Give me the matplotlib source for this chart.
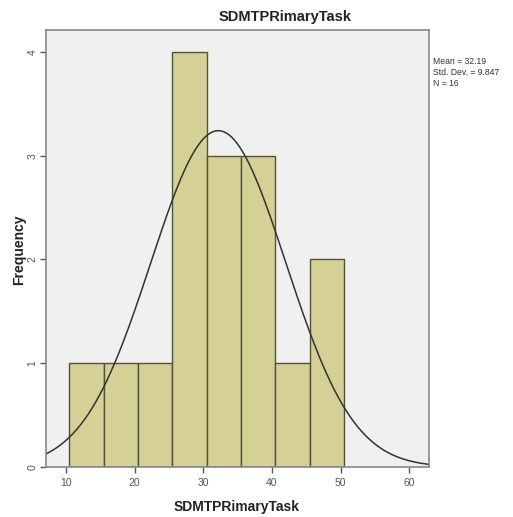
import numpy as np
import matplotlib.pyplot as plt

plt.rcParams['font.family'] = ['Liberation Sans', 'DejaVu Sans']

# binned frequencies for SDMTPRimaryTask
bin_edges = [10.5, 15.5, 20.5, 25.5, 30.5, 35.5, 40.5, 45.5, 50.5]
counts = [1, 1, 1, 4, 3, 3, 1, 2]
mean = 32.19
std = 9.847
n = 16

fig = plt.figure(figsize=(5.13, 5.17), dpi=100)
ax = fig.add_axes([0.0897, 0.0967, 0.747, 0.845])
ax.set_facecolor('#f0f0f0')

widths = np.diff(bin_edges)
ax.bar(bin_edges[:-1], counts, width=widths, align='edge',
       color='#d5d096', edgecolor='#55523c', linewidth=1.0)

# normal curve scaled to the histogram
xs = np.linspace(7.1, 62.9, 300)
binw = widths[0]
ys = n * binw / (std * np.sqrt(2 * np.pi)) * np.exp(-0.5 * ((xs - mean) / std) ** 2)
ax.plot(xs, ys, color='#333333', linewidth=1.1)

ax.set_xlim(7.1, 62.9)
ax.set_ylim(0, 4.21)
ax.set_xticks([10, 20, 30, 40, 50, 60])
ax.set_yticks([0, 1, 2, 3, 4])
ax.tick_params(axis='both', labelsize=7.5, colors='#555555', length=4, width=1)
ax.tick_params(axis='x', pad=4)
ax.tick_params(axis='y', pad=2)
for lbl in ax.get_yticklabels():
    lbl.set_rotation(90)
    lbl.set_va('center')
for sp in ax.spines.values():
    sp.set_color('#888888')
    sp.set_linewidth(1.2)

fig.text(285 / 513, 1 - 17 / 517, 'SDMTPRimaryTask', fontsize=10.5,
         fontweight='bold', color='#222222', ha='center', va='center')
fig.text(237 / 513, 1 - 507 / 517, 'SDMTPRimaryTask', fontsize=10,
         fontweight='bold', color='#222222', ha='center', va='center')
fig.text(19 / 513, 1 - 250 / 517, 'Frequency', fontsize=10, rotation=90,
         fontweight='bold', color='#222222', ha='center', va='center')

fig.text(433 / 513, 1 - 57 / 517, 'Mean = %.2f\nStd. Dev. = %.3f\nN = %d' % (mean, std, n),
         fontsize=6.2, color='#333333', va='top', linespacing=1.25)

fig.savefig('out.png', dpi=100)
